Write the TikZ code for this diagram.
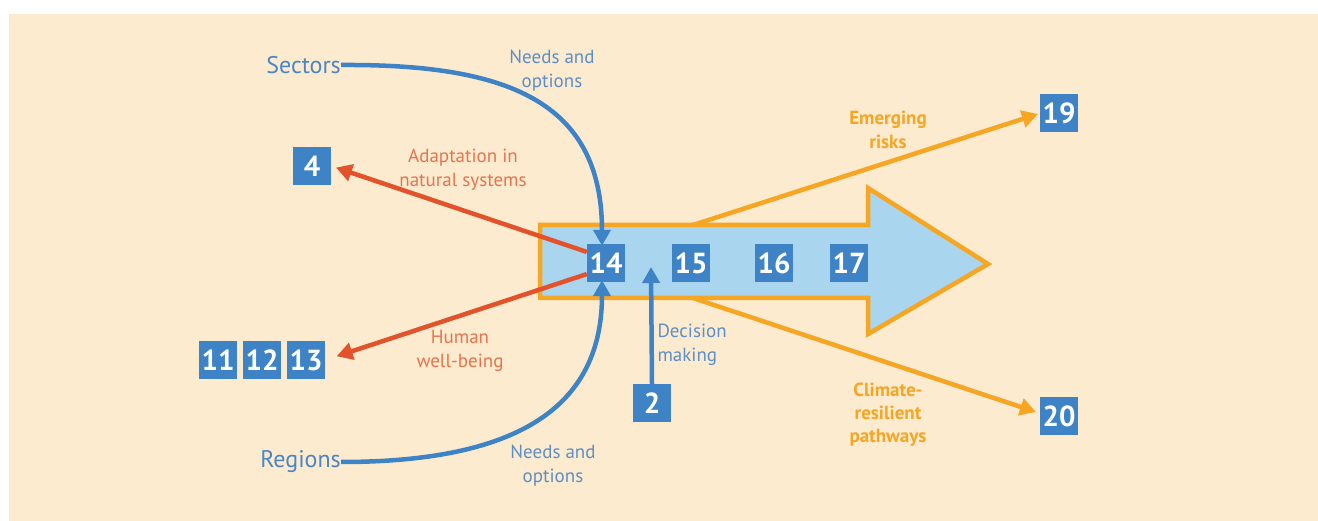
\documentclass[tikz,border=0pt]{standalone}
\usepackage{fontspec}
\setmainfont{PT Sans}
\usetikzlibrary{arrows.meta}
\definecolor{bg}{HTML}{FDEBD0}
\definecolor{boxblue}{HTML}{3E83C6}
\definecolor{lightblue}{HTML}{A9D5EF}
\definecolor{orng}{HTML}{F6A623}
\definecolor{redc}{HTML}{E2522B}
\definecolor{bluetext}{HTML}{4A86C5}
\definecolor{bluelbl}{HTML}{5E8EC4}
\definecolor{redtext}{HTML}{E5744F}
\begin{document}
\begin{tikzpicture}[x=1pt,y=-1pt,
  numbox/.style={fill=boxblue, text=white, font=\fontsize{29}{29}\selectfont\bfseries, minimum width=38pt, minimum height=38pt, inner sep=0pt},
  lbl/.style={align=center, font=\fontsize{19}{24}\selectfont},
  biglbl/.style={font=\fontsize{24}{24}\selectfont, text=bluetext, inner sep=0pt},
  barrow/.style={draw=boxblue, line width=4.5pt, -{Triangle[length=16pt,width=17pt]}},
  rarrow/.style={draw=redc, line width=4.5pt, -{Triangle[length=16pt,width=17pt]}},
  oarrow/.style={draw=orng, line width=4.5pt, -{Triangle[length=16pt,width=17pt]}},
  bigarrow/.style={draw=orng, line width=4.5pt, fill=lightblue, line join=miter}]
\useasboundingbox (0,0) rectangle (1318,521);
\fill[white] (0,0) rectangle (1318,521);
\fill[bg] (9,14) rectangle (1318,521);

% big arrow
\coordinate (bt) at (693,225);
\coordinate (bb) at (693,298);
\draw[oarrow] (bt) -- (1038,114);
\draw[oarrow] (bb) -- (1036,412);
\draw[bigarrow] (540,225) -- (868,225) -- (868,188) -- (988,264) -- (868,334) -- (868,298) -- (540,298) -- cycle;

% number boxes
\node[numbox] (n14) at (606,263) {14};
\node[numbox] (n15) at (691,263) {15};
\node[numbox] (n16) at (774,263) {16};
\node[numbox] (n17) at (849,263) {17};
\node[numbox] (n4) at (312,166) {4};
\node[numbox] (n11) at (218,360) {11};
\node[numbox] (n12) at (262,360) {12};
\node[numbox] (n13) at (306,360) {13};
\node[numbox] (n2) at (652,403) {2};
\node[numbox] (n19) at (1059,113) {19};
\node[numbox] (n20) at (1059,416) {20};

% text labels
\node[biglbl, anchor=east] (sectors) at (341,65) {Sectors};
\node[biglbl, anchor=east] (regions) at (341,462) {Regions};
\node[lbl, text=bluelbl] (lneeds1) at (552,71) {Needs and\\options};
\node[lbl, text=bluelbl] (lneeds2) at (553,466) {Needs and\\options};
\node[lbl, text=redtext] (ladapt) at (463,170) {Adaptation in\\natural systems};
\node[lbl, text=redtext] (lhuman) at (460,351) {Human\\well-being};
\node[lbl, text=bluelbl, align=left, anchor=west] (ldec) at (654,345) {Decision\\making};
\node[lbl, text=orng, font=\fontsize{19}{24}\selectfont\bfseries] (lemerg) at (888,130) {Emerging\\risks};
\node[lbl, text=orng, font=\fontsize{19}{23}\selectfont\bfseries] (lclim) at (888,415) {Climate-\\resilient\\pathways};

% connectors
\draw[barrow] (sectors.east) .. controls (505,64) and (602,100) .. ([xshift=-4pt,yshift=-2pt]n14.north);
\draw[barrow] (regions.east) .. controls (505,462) and (602,415) .. ([xshift=-4pt,yshift=2pt]n14.south);
\draw[rarrow, shorten >=5pt] (n14.150) -- (n4.east);
\draw[rarrow, shorten >=12pt] (n14.210) -- (n13.east);
\draw[barrow] (n2.north) -- (651,267);
\end{tikzpicture}
\end{document}
